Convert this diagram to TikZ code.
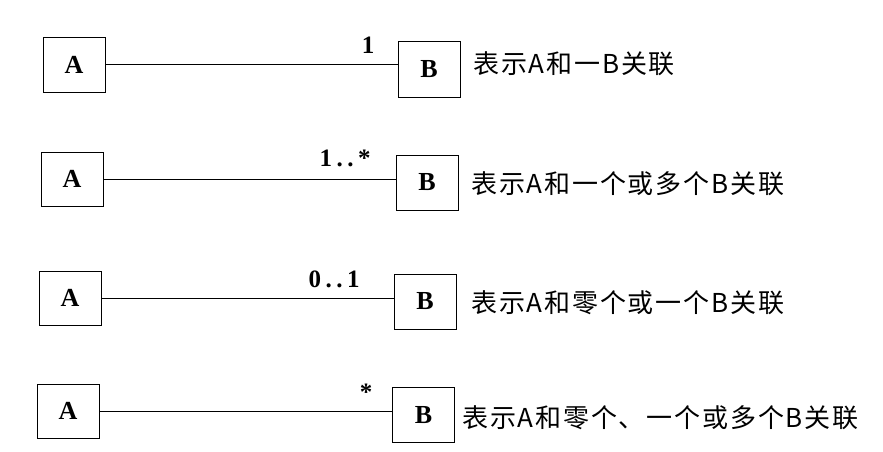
\documentclass[tikz,border=0pt]{standalone}
\usepackage{fontspec}
\setmainfont{Liberation Serif}
\newfontfamily\cjkfont[LetterSpace=7]{Noto Sans CJK SC}
\newfontfamily\multfont[LetterSpace=18]{Liberation Serif}
\usetikzlibrary{positioning}

\begin{document}
\begin{tikzpicture}[
  x=1pt, y=-1pt,
  cls/.style={draw, line width=1pt, minimum width=62pt, minimum height=54pt,
    inner sep=0pt, font=\fontsize{26}{26}\selectfont\bfseries},
  assoc/.style={line width=1pt},
  mult/.style={font=\multfont\fontsize{25}{25}\selectfont\bfseries, inner sep=0pt},
  desc/.style={anchor=west, inner sep=0pt, font=\cjkfont\fontsize{26}{26}\selectfont},
]
\useasboundingbox (0,0) rectangle (883,452);

% === 1 ===
\node[cls] (a1) at (74,65) {A};
\node[cls, minimum height=55pt] (b1) at (429,69.5) {B};
\draw[assoc] (a1.east) -- (a1.east -| b1.west);
\node[mult] (m1) at (368,45) {1};
\node[desc] (t1) at (473,64) {表示A和一B关联};

% === 1..* ===
\node[cls] (a2) at (72,179) {A};
\node[cls, minimum height=55pt] (b2) at (427,182.5) {B};
\draw[assoc] (a2.east) -- (a2.east -| b2.west);
\node[mult] (m2) at (345,158) {1..*};
\node[desc] (t2) at (471,184) {表示A和一个或多个B关联};

% === 0..1 ===
\node[cls] (a3) at (70,298) {A};
\node[cls, minimum height=55pt] (b3) at (425,301.5) {B};
\draw[assoc] (a3.east) -- (a3.east -| b3.west);
\node[mult] (m3) at (334,279) {0..1};
\node[desc] (t3) at (471,303) {表示A和零个或一个B关联};

% === * ===
\node[cls] (a4) at (68,411) {A};
\node[cls, minimum height=55pt] (b4) at (423.5,415) {B};
\draw[assoc] (a4.east) -- (a4.east -| b4.west);
\node[mult] (m4) at (366,392) {*};
\node[desc] (t4) at (462,418) {表示A和零个、一个或多个B关联};

\end{tikzpicture}
\end{document}
